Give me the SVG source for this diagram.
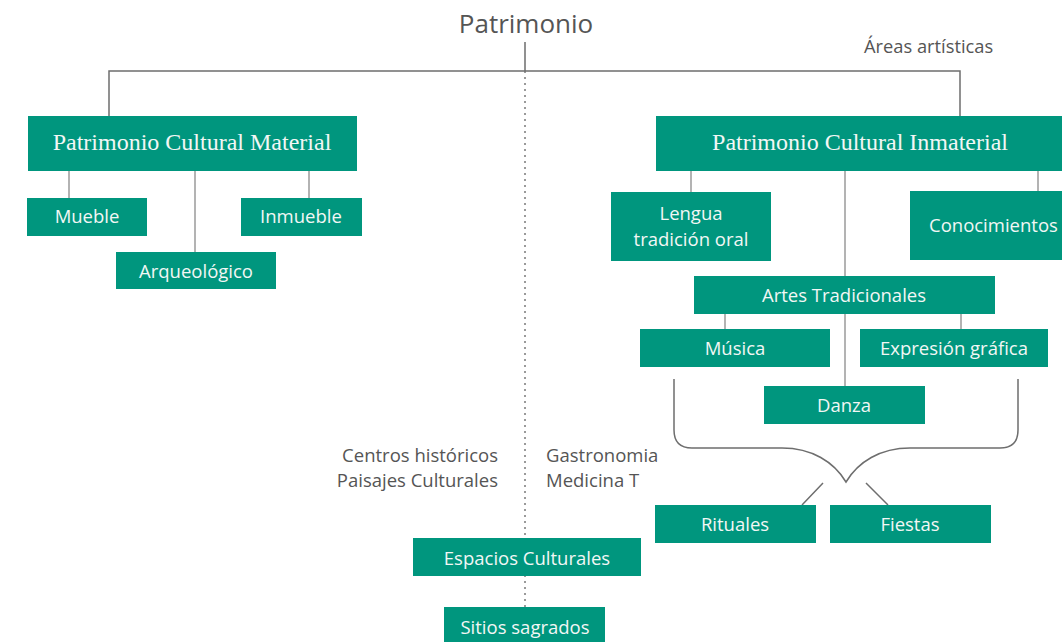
<svg xmlns="http://www.w3.org/2000/svg" width="1062" height="642" viewBox="0 0 1062 642">
<style>
.box{fill:#00967e}
.t{font-family:"Open Sans","Noto Sans",sans-serif;font-size:18.5px;fill:#f2f7f5;text-anchor:middle}
.s{font-family:"Liberation Serif","DejaVu Serif",serif;font-size:24px;fill:#f2f7f5;text-anchor:middle}
.g{font-family:"Open Sans","Noto Sans",sans-serif;font-size:18.5px;fill:#555}
.c{fill:none;stroke:#9a9a9a;stroke-width:1.5}
.d{fill:none;stroke:#6e6e6e;stroke-width:1.5}
</style>
<rect width="1062" height="642" fill="#ffffff"/>
<g id="connectors">
<line x1="525" y1="71" x2="525" y2="612" stroke="#7a7a7a" stroke-width="1.5" stroke-dasharray="2 4"/>
<path class="d" d="M525,42 V71 M109,117 V71 H960 V117"/>
<path class="c" d="M69,171 V198 M195,171 V252 M309,171 V198"/>
<path class="c" d="M691,171 V192 M845,171 V276 M1038,171 V191"/>
<path class="c" d="M725,314 V329 M961,314 V329 M845,314 V386"/>
<path class="d" d="M674,379 V430 Q674,448 692,448 H782 C812,448 834,462 846,482 C858,462 880,448 910,448 H1000 Q1018,448 1018,430 V379"/>
<path class="d" d="M823,483 L802,505 M866,483 L888,505"/>
</g>
<g id="title"><text x="526" y="33" class="g" style="font-size:26px;text-anchor:middle">Patrimonio</text></g>
<g id="areas"><text x="864" y="53" class="g" style="font-size:18.3px">Áreas artísticas</text></g>
<g id="pcm"><rect class="box" x="28" y="116" width="329" height="55"/><text class="s" x="192" y="150">Patrimonio Cultural Material</text></g>
<g id="mueble"><rect class="box" x="27" y="198" width="120" height="38"/><text class="t" x="87" y="223">Mueble</text></g>
<g id="inmueble"><rect class="box" x="241" y="198" width="121" height="38"/><text class="t" x="301" y="223">Inmueble</text></g>
<g id="arqueologico"><rect class="box" x="116" y="252" width="160" height="37"/><text class="t" x="196" y="278">Arqueológico</text></g>
<g id="pci"><rect class="box" x="656" y="116" width="406" height="55"/><text class="s" x="860" y="150">Patrimonio Cultural Inmaterial</text></g>
<g id="lengua"><rect class="box" x="611" y="192" width="160" height="69"/><text class="t" x="691" y="220">Lengua</text><text class="t" x="691" y="246">tradición oral</text></g>
<g id="conocimientos"><rect class="box" x="910" y="191" width="152" height="69"/><text class="t" x="929" y="232" style="text-anchor:start">Conocimientos</text></g>
<g id="artes"><rect class="box" x="694" y="276" width="301" height="38"/><text class="t" x="844" y="302">Artes Tradicionales</text></g>
<g id="musica"><rect class="box" x="640" y="329" width="190" height="38"/><text class="t" x="735" y="355">Música</text></g>
<g id="expresion"><rect class="box" x="860" y="329" width="188" height="38"/><text class="t" x="954" y="355">Expresión gráfica</text></g>
<g id="danza"><rect class="box" x="764" y="386" width="161" height="38"/><text class="t" x="844" y="412">Danza</text></g>
<g id="rituales"><rect class="box" x="655" y="505" width="161" height="38"/><text class="t" x="735" y="531">Rituales</text></g>
<g id="fiestas"><rect class="box" x="830" y="505" width="161" height="38"/><text class="t" x="910" y="531">Fiestas</text></g>
<g id="centros"><text class="g" x="498" y="462" style="text-anchor:end">Centros históricos</text><text class="g" x="498" y="487" style="text-anchor:end">Paisajes Culturales</text></g>
<g id="gastronomia"><text class="g" x="546" y="462">Gastronomia</text><text class="g" x="546" y="487">Medicina T</text></g>
<g id="espacios"><rect class="box" x="413" y="538" width="228" height="38"/><text class="t" x="527" y="565">Espacios Culturales</text></g>
<g id="sitios"><rect class="box" x="444" y="607" width="161" height="40"/><text class="t" x="525" y="634">Sitios sagrados</text></g>
</svg>
